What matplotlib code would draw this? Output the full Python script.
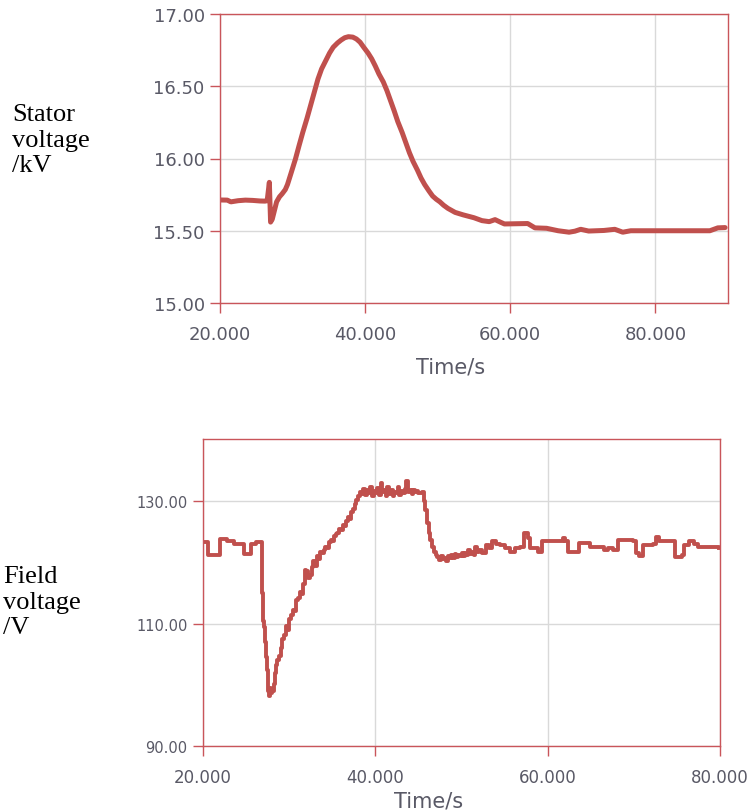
import matplotlib
matplotlib.use("Agg")
import matplotlib.pyplot as plt

# ---------------- data ----------------
stator_t = [20.0, 21.0, 21.5, 22.5, 23.5, 24.5, 25.5, 26.2, 26.5, 26.8, 26.97, 27.2, 27.5, 27.8,
            28.2, 28.55, 29.0, 29.3, 29.8, 30.4, 30.9, 31.4, 32.0, 32.5, 33.0, 33.5, 34.0,
            34.6, 35.1, 35.6, 36.2, 36.7, 37.2, 37.7, 38.3, 38.8, 39.3, 39.8, 40.4, 40.9,
            41.4, 41.9, 42.5, 43.0, 43.5, 44.0, 44.5, 45.1, 45.6, 46.1, 46.6, 47.2, 47.7,
            48.2, 48.8, 49.3, 49.8, 50.3, 50.8, 51.4, 52.4, 53.5, 55.0, 56.1,
            57.1, 57.9, 58.7, 59.2, 62.4, 63.4, 65.0, 66.6, 68.1, 68.9, 69.7, 70.8, 72.9,
            74.4, 75.5, 76.6, 80.0, 84.0, 87.5, 88.6, 89.6]
stator_v = [15.713, 15.712, 15.700, 15.708, 15.712, 15.710, 15.706, 15.705, 15.708, 15.835, 15.56,
            15.58, 15.64, 15.70, 15.735, 15.755, 15.785, 15.82, 15.90, 15.997, 16.09, 16.18,
            16.28, 16.37, 16.46, 16.55, 16.62, 16.68, 16.73, 16.77, 16.80, 16.82, 16.836,
            16.843, 16.84, 16.827, 16.805, 16.77, 16.73, 16.69, 16.64, 16.585, 16.53, 16.47,
            16.40, 16.33, 16.255, 16.18, 16.11, 16.04, 15.98, 15.92, 15.865, 15.82, 15.775,
            15.74, 15.718, 15.70, 15.677, 15.655, 15.627, 15.61, 15.59, 15.57, 15.563, 15.577,
            15.558, 15.547, 15.55, 15.52, 15.517, 15.50, 15.49, 15.497, 15.51, 15.498, 15.502,
            15.51, 15.49, 15.50, 15.50, 15.50, 15.50, 15.52, 15.522]

field_t = [20.0, 20.6, 22.0, 22.8, 23.6, 24.8, 25.6, 26.2, 26.8, 26.9, 27.0, 27.1, 27.2, 27.3,
           27.4, 27.5, 27.6, 27.7, 27.8, 27.9, 28.0, 28.1, 28.2, 28.3, 28.4, 28.5, 28.6,
           28.8, 29.0, 29.2, 29.4, 29.6, 29.8, 30.0, 30.2, 30.4, 30.6, 30.8, 31.0, 31.2,
           31.4, 31.6, 31.8, 32.0, 32.2, 32.4, 32.6, 32.8, 33.0, 33.2, 33.4, 33.6, 33.8,
           34.0, 34.2, 34.4, 34.6, 34.8, 35.0, 35.2, 35.4, 35.6, 35.8, 36.0, 36.2, 36.4,
           36.6, 36.8, 37.0, 37.2, 37.4, 37.6, 37.8, 38.0, 38.2, 38.4, 38.6, 38.8, 39.0,
           39.2, 39.4, 39.6, 39.8, 40.0, 40.2, 40.4, 40.6, 40.8, 41.0, 41.2, 41.4, 41.6,
           41.8, 42.0, 42.2, 42.4, 42.6, 42.8, 43.0, 43.2, 43.4, 43.6, 43.8, 44.0, 44.2,
           44.4, 44.6, 44.8, 45.0, 45.4, 45.6, 45.8, 46.0, 46.2, 46.4, 46.6, 46.8, 47.0,
           47.2, 47.4, 47.6, 47.8, 48.0, 48.2, 48.4, 48.6, 48.8, 49.0, 49.2, 49.4, 49.6,
           49.8, 50.0, 50.2, 50.4, 50.6, 50.8, 51.0, 51.2, 51.4, 51.6, 51.8, 52.0, 52.4,
           52.8, 53.2, 53.5, 54.0, 54.5, 55.0, 55.6, 56.2, 56.8, 57.3, 57.7, 58.0, 58.9,
           59.3, 61.5, 61.8, 62.0, 62.4, 63.6, 64.9, 66.5, 67.0, 67.6, 68.2, 69.9, 70.2,
           70.6, 71.1, 72.2, 72.6, 72.9, 74.5, 74.8, 75.6, 75.8, 76.4, 77.0, 77.4, 78.5,
           79.9]
field_v = [123.3, 121.3, 123.9, 123.6, 123.1, 121.4, 123.1, 123.3, 123.0, 115.0, 110.5, 109.5,
           107.0, 104.5, 102.5, 100.5, 99.0, 98.2, 99.5, 98.6, 99.4, 99.0, 100.2, 101.5,
           102.0, 103.2, 104.0, 104.7, 106.0, 107.5, 108.2, 109.6, 109.0, 110.8, 111.5,
           112.3, 112.0, 113.8, 114.2, 115.1, 114.9, 116.5, 118.8, 118.6, 117.5, 118.0,
           119.2, 120.3, 119.5, 121.0, 120.6, 121.8, 121.5, 122.1, 122.6, 122.3, 123.4,
           123.7, 123.5, 124.3, 124.6, 124.8, 125.5, 125.3, 126.2, 125.9, 126.8, 127.5,
           127.1, 128.3, 128.8, 129.5, 130.2, 130.9, 131.6, 131.2, 132.1, 131.0, 131.8,
           131.3, 132.3, 130.9, 131.7, 131.4, 132.2, 131.1, 133.0, 131.5, 131.9, 130.8,
           132.4, 131.2, 131.8, 130.9, 131.6, 131.3, 132.3, 131.0, 131.7, 131.4, 132.1,
           133.4, 131.6, 131.9, 131.2, 131.8, 131.5, 131.7, 131.3, 131.5, 130.0, 128.6,
           126.5, 124.8, 123.7, 122.5, 121.8, 121.3, 120.9, 120.4, 121.1, 120.5, 120.8,
           120.3, 121.0, 120.7, 121.2, 120.8, 121.4, 120.9, 121.3, 121.0, 121.6, 121.1,
           121.5, 121.2, 122.0, 121.4, 121.8, 121.3, 122.5, 121.7, 122.0, 121.6, 122.8,
           122.4, 123.5, 123.1, 122.9, 122.3, 121.7, 122.4, 122.6, 124.8, 124.0, 122.3,
           121.7, 123.5, 123.6, 124.0, 123.6, 121.7, 123.2, 122.6, 122.0, 122.3, 122.0,
           123.7, 123.6, 121.5, 121.1, 122.9, 123.0, 124.2, 123.6, 123.5, 120.9, 121.2,
           122.9, 123.6, 123.0, 122.6, 122.5, 122.4]

top_xticks = [20, 40, 60, 80]
top_xlabels = ["20.000", "40.000", "60.000", "80.000"]
top_yticks = [15.0, 15.5, 16.0, 16.5, 17.0]
top_ylabels = ["15.00", "15.50", "16.00", "16.50", "17.00"]
bot_xticks = [20, 40, 60, 80]
bot_xlabels = ["20.000", "40.000", "60.000", "80.000"]
bot_yticks = [90, 110, 130]
bot_ylabels = ["90.00", "110.00", "130.00"]

LINE = "#C0504D"
FRAME = "#C9555A"
GRID = "#D9D9D9"
TXT = "#595966"

fig = plt.figure(figsize=(7.5, 8.12), dpi=100)

def style(ax, xfs, yfs):
    for s in ax.spines.values():
        s.set_color(FRAME)
        s.set_linewidth(1.0)
    ax.grid(True, color=GRID, linewidth=1.0)
    ax.set_axisbelow(True)
    ax.tick_params(axis="both", direction="out", length=7, width=1.0, color=FRAME,
                   labelcolor=TXT)
    ax.tick_params(axis="x", labelsize=xfs, pad=9)
    ax.tick_params(axis="y", labelsize=yfs, pad=4)

# ---- top ----
ax1 = fig.add_axes([220/750, 1-304/812, 508/750, 289/812])
ax1.plot(stator_t, stator_v, color=LINE, linewidth=3.6, solid_capstyle="round",
         solid_joinstyle="round")
ax1.set_xlim(20, 90)
ax1.set_ylim(15.0, 17.0)
ax1.set_xticks(top_xticks)
ax1.set_xticklabels(top_xlabels)
ax1.set_yticks(top_yticks)
ax1.set_yticklabels(top_ylabels)
style(ax1, 13, 13)
ax1.text(0.453, -54/289, "Time/s", transform=ax1.transAxes, ha="center", va="top",
         fontsize=15, color=TXT)

# ---- bottom ----
ax2 = fig.add_axes([203/750, 1-747/812, 517/750, 307/812])
ax2.plot(field_t, field_v, color=LINE, linewidth=2.8, drawstyle="steps-post")
ax2.set_xlim(20, 80)
ax2.set_ylim(90, 140.2)
ax2.set_xticks(bot_xticks)
ax2.set_xticklabels(bot_xlabels)
ax2.set_yticks(bot_yticks)
ax2.set_yticklabels(bot_ylabels)
style(ax2, 12, 10.5)
ax2.text(0.437, -45/307, "Time/s", transform=ax2.transAxes, ha="center", va="top",
         fontsize=15, color=TXT)

# ---- side labels ----
fig.text(12/750, 1-104/812, "Stator\nvoltage\n/kV", ha="left", va="top",
         fontsize=19, family="Liberation Serif", color="black", linespacing=1.22)
fig.text(3/750, 1-566/812, "Field\nvoltage\n/V", ha="left", va="top",
         fontsize=19, family="Liberation Serif", color="black", linespacing=1.22)

fig.savefig("out.png", dpi=100)
